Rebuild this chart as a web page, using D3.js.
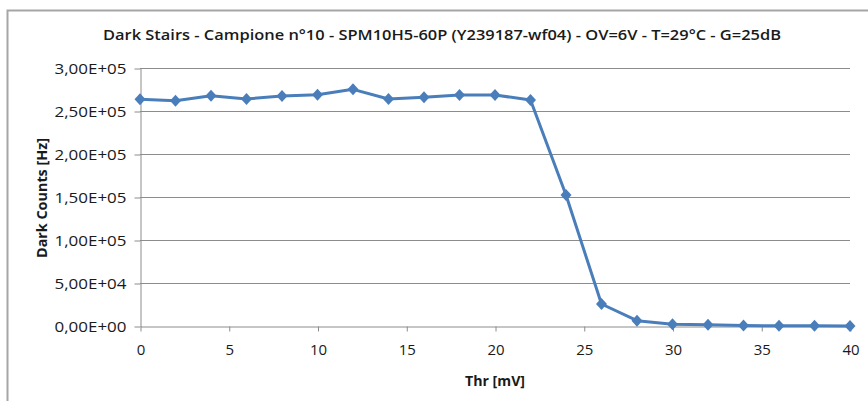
<!DOCTYPE html>
<html>
<head>
<meta charset="utf-8">
<script src="https://cdn.jsdelivr.net/npm/d3@7"></script>
<style>
  html, body { margin: 0; padding: 0; background: #fff; }
  svg { display: block; }
  text { font-family: "Open Sans", "Noto Sans", sans-serif; fill: #1a1a1a; }
</style>
</head>
<body>
<svg id="chart" width="868" height="401"></svg>
<script>
const titleText = "Dark Stairs - Campione n°10 - SPM10H5-60P (Y239187-wf04)  - OV=6V - T=29°C - G=25dB";
const xLabel = "Thr [mV]";
const yLabel = "Dark Counts [Hz]";
const thresholds = [0, 2, 4, 6, 8, 10, 12, 14, 16, 18, 20, 22, 24, 26, 28, 30, 32, 34, 36, 38, 40];
const darkCounts = [263600, 262000, 267800, 264000, 267400, 269000, 275200, 264000, 266000, 268600, 268600, 262800, 152300, 25600, 6200, 2000, 1500, 500, 300, 200, 100];
const xTicks = [0, 5, 10, 15, 20, 25, 30, 35, 40];
const yTicks = [0, 50000, 100000, 150000, 200000, 250000, 300000];

const svg = d3.select("#chart");
const pLeft = 140, pRight = 850, pTop = 68, pBottom = 326;

// outer frame (top and left only visible)
svg.append("path").attr("d", "M7.5,401 L7.5,10.5 L868,10.5")
  .attr("fill", "none").attr("stroke", "#a6a6a6").attr("stroke-width", 2);

const x = d3.scaleLinear().domain([0, 40]).range([pLeft, pRight]);
const y = d3.scaleLinear().domain([0, 300000]).range([pBottom, pTop]);

const fmt = v => {
  const s = v.toExponential(2).replace(".", ",");
  const [m, e] = s.split("e");
  const ev = parseInt(e, 10);
  return m + "E" + (ev < 0 ? "-" : "+") + String(Math.abs(ev)).padStart(2, "0");
};

// grid
svg.append("g").selectAll("line").data(yTicks.filter(d => d > 0)).join("line")
  .attr("x1", pLeft).attr("x2", pRight)
  .attr("y1", d => Math.round(y(d)) + 0.5).attr("y2", d => Math.round(y(d)) + 0.5)
  .attr("stroke", "#8c8c8c").attr("stroke-width", 1);

// y axis
const yAxis = svg.append("g").attr("transform", `translate(${pLeft + 0.5},0.5)`)
  .call(d3.axisLeft(y).tickValues(yTicks).tickFormat(fmt).tickSize(6).tickSizeOuter(0).tickPadding(8));
yAxis.select(".domain").attr("stroke", "#8c8c8c");
yAxis.selectAll(".tick line").attr("stroke", "#8c8c8c");
yAxis.selectAll(".tick text").attr("font-size", 15).attr("fill", "#1a1a1a")
  .attr("textLength", 72).attr("lengthAdjust", "spacingAndGlyphs")
  .style("font-family", "'Open Sans', sans-serif");

// x axis
const xAxis = svg.append("g").attr("transform", `translate(0.5,${pBottom + 0.5})`)
  .call(d3.axisBottom(x).tickValues(xTicks).tickFormat(d3.format("d")).tickSize(5).tickSizeOuter(0).tickPadding(13));
xAxis.select(".domain").attr("stroke", "#8c8c8c");
xAxis.selectAll(".tick line").attr("stroke", "#8c8c8c");
xAxis.selectAll(".tick text").attr("font-size", 15).attr("fill", "#1a1a1a")
  .style("font-family", "'Open Sans', sans-serif");

// line
const data = thresholds.map((t, i) => ({ t, v: darkCounts[i] }));
svg.append("path").datum(data)
  .attr("fill", "none").attr("stroke", "#4a7ebb").attr("stroke-width", 3)
  .attr("stroke-linejoin", "round")
  .attr("d", d3.line().x(d => x(d.t)).y(d => y(d.v)));

// diamond markers
svg.append("g").selectAll("path").data(data).join("path")
  .attr("transform", d => `translate(${x(d.t)},${y(d.v)})`)
  .attr("d", "M0,-6 L5.5,0 L0,6 L-5.5,0 Z")
  .attr("fill", "#4a7ebb");

// title
svg.append("text").attr("x", 442).attr("y", 40).attr("text-anchor", "middle")
  .attr("font-size", 14).attr("font-weight", 600)
  .attr("textLength", 678).attr("lengthAdjust", "spacingAndGlyphs")
  .text(titleText);

// axis titles
svg.append("text").attr("x", (pLeft + pRight) / 2).attr("y", 386).attr("text-anchor", "middle")
  .attr("font-size", 14).attr("font-weight", 700)
  .attr("textLength", 60).attr("lengthAdjust", "spacingAndGlyphs")
  .text(xLabel);
svg.append("text").attr("transform", "translate(47,198) rotate(-90)").attr("text-anchor", "middle")
  .attr("font-size", 14).attr("font-weight", 700)
  .attr("textLength", 120).attr("lengthAdjust", "spacingAndGlyphs")
  .text(yLabel);
</script>
</body>
</html>
